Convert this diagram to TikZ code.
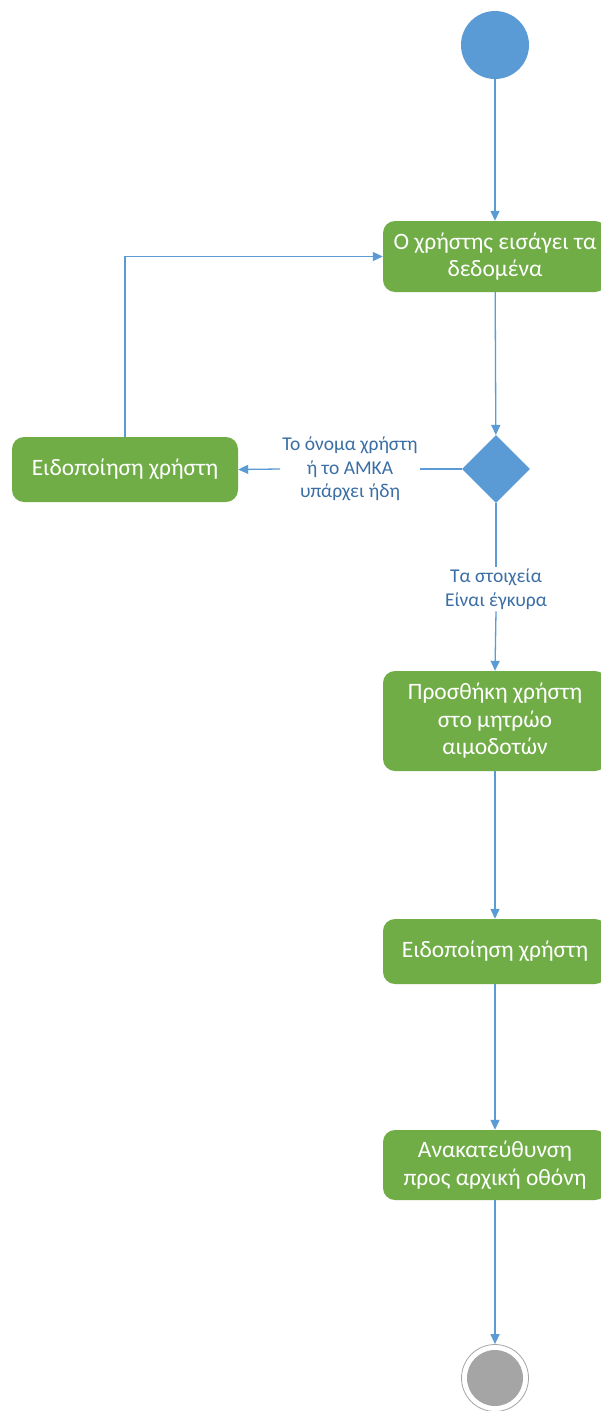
\documentclass[tikz,border=0pt]{standalone}
\usepackage{fontspec}
\setmainfont{Carlito}
\usetikzlibrary{arrows.meta,shapes.geometric}
\definecolor{actgreen}{HTML}{70AD47}
\definecolor{flowblue}{HTML}{5B9BD5}
\definecolor{labelblue}{HTML}{3A6EA5}
\definecolor{endgray}{HTML}{A5A5A5}
\tikzset{
  act/.style={draw=none, fill=actgreen, rounded corners=12pt, text=white,
    font=\fontsize{23.5}{27.5}\selectfont, align=center, minimum width=224pt, inner sep=0pt},
  flow/.style={draw=flowblue, line width=1.3pt, -{Triangle[length=10pt,width=9pt]}},
  line/.style={draw=flowblue, line width=1.3pt},
  lbl/.style={text=labelblue, font=\fontsize{19.5}{23.5}\selectfont, align=center, inner sep=2pt},
}
\begin{document}
\begin{tikzpicture}[x=1pt,y=-1pt]
\useasboundingbox (0,0) rectangle (601,1411);
\clip (0,0) rectangle (601,1411);
\fill[white] (0,0) rectangle (601,1411);
\node[circle, fill=flowblue, minimum size=68pt, inner sep=0pt] (start) at (495,45) {};
\node[act, minimum height=71pt] (enter) at (495,256.5) {Ο χρήστης εισάγει τα\\δεδομένα};
\node[diamond, fill=flowblue, minimum width=68pt, minimum height=68pt, inner sep=0pt] (dec) at (496,469) {};
\node[act, minimum width=226pt, minimum height=65pt] (notify1) at (125,469.5) {Ειδοποίηση χρήστη};
\node[act, minimum height=100pt] (add) at (495,721) {Προσθήκη χρήστη\\στο μητρώο\\αιμοδοτών};
\node[act, minimum height=65pt] (notify2) at (495,951.5) {Ειδοποίηση χρήστη};
\node[act, minimum height=70pt] (redir) at (495,1165) {Ανακατεύθυνση\\προς αρχική οθόνη};
\node[circle, draw=endgray, line width=0.8pt, fill=white, minimum size=67pt, inner sep=0pt] (stop) at (495,1378) {};
\node[circle, fill=endgray, minimum size=56pt, inner sep=0pt] (stopin) at (495,1378) {};
\node[lbl] (lexists) at (350,469) {Το όνομα χρήστη\\ή το ΑΜΚΑ\\υπάρχει ήδη};
\node[lbl] (lvalid) at (496,589) {Τα στοιχεία\\Είναι έγκυρα};
\coordinate (corner) at (notify1.north |- enter.west);
\draw[flow] (start) -- (enter);
\draw[flow] (enter) -- (dec);
\draw[line] (dec.west) -- (lexists.east);
\draw[flow] (lexists.west) -- (notify1.east);
\draw[line] (dec.south) -- (lvalid.north);
\draw[flow] (lvalid.south) -- (add.north);
\draw[flow] (notify1.north) -- (corner) -- (enter.west);
\draw[flow] (add) -- (notify2);
\draw[flow] (notify2) -- (redir);
\draw[flow] (redir) -- (stop);
\end{tikzpicture}
\end{document}
